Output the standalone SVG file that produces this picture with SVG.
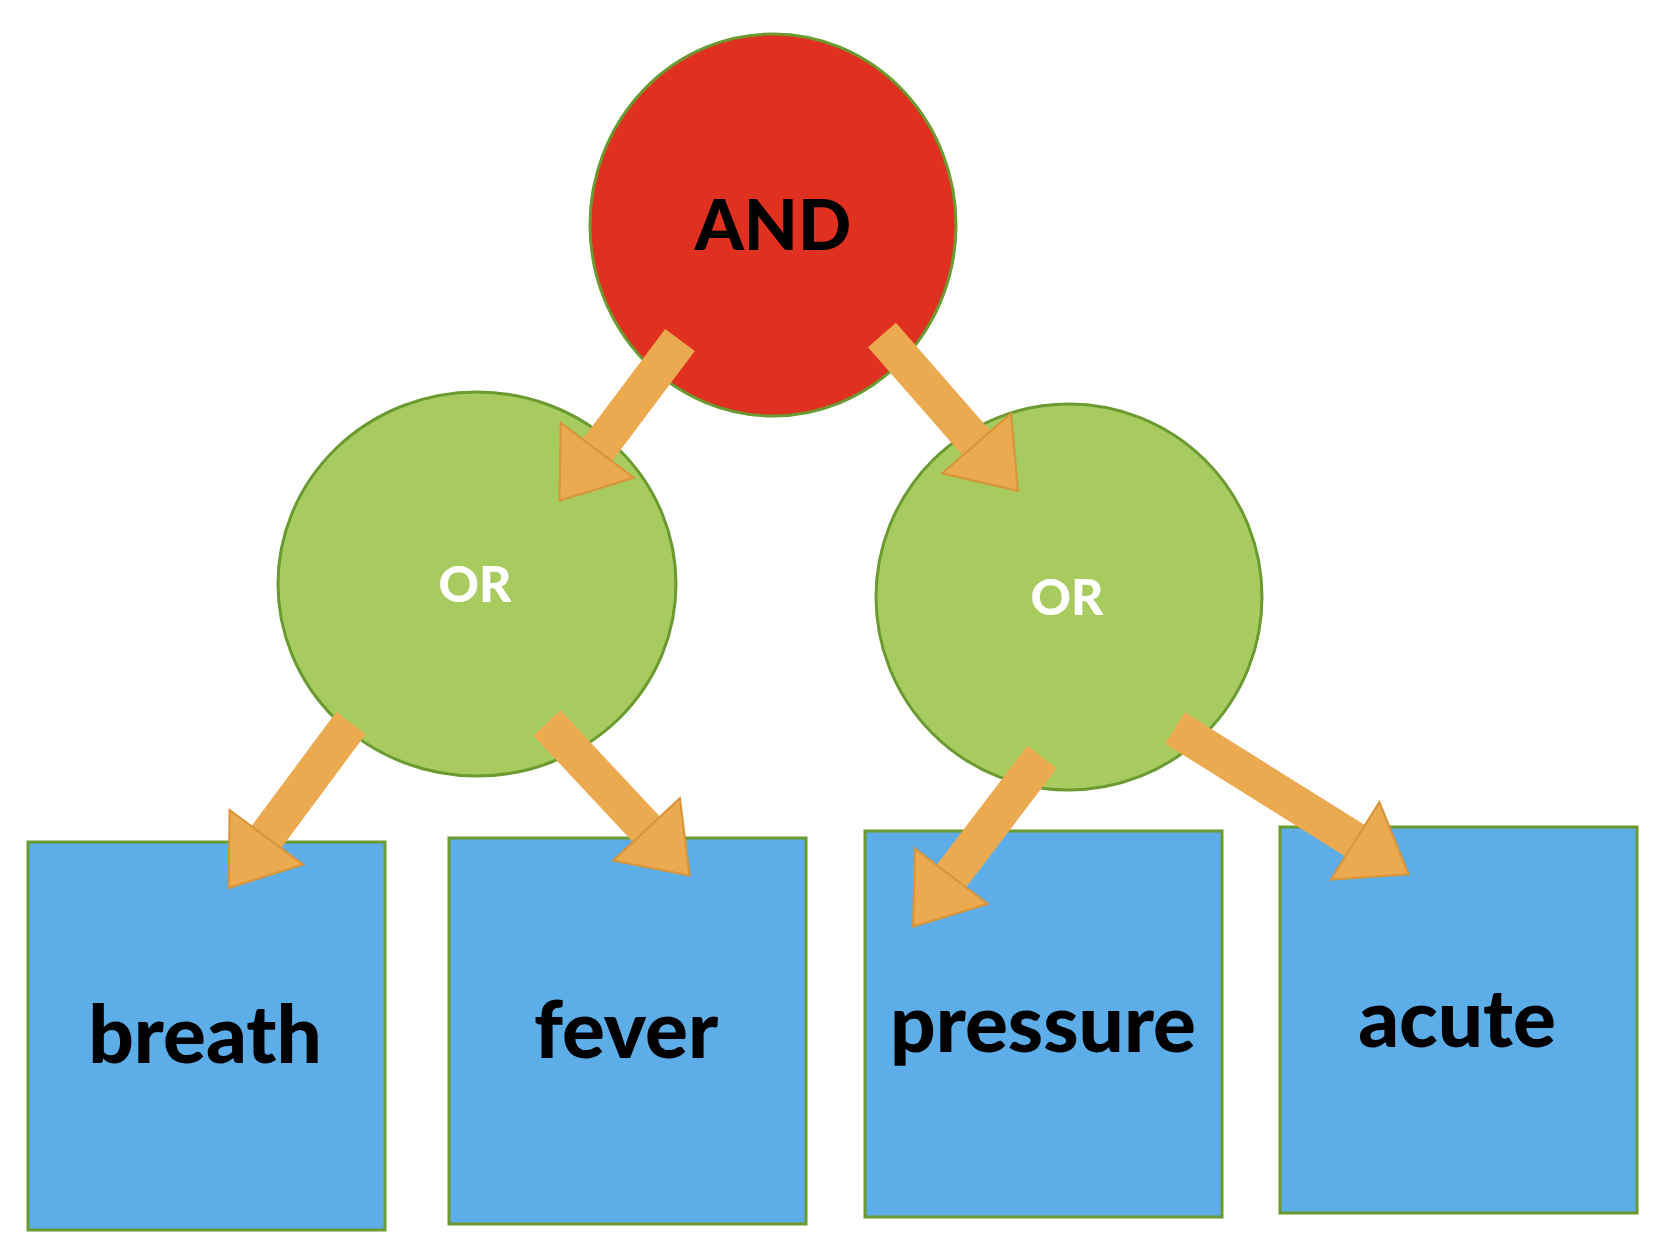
<svg xmlns="http://www.w3.org/2000/svg" width="1659" height="1251" viewBox="0 0 1659 1251">
<style>
.and{fill:#E03020;stroke:#6A9A30;stroke-width:3}
.or{fill:#A8CB60;stroke:#6A9A30;stroke-width:3}
.box{fill:#5DADE8;stroke:#6A9A30;stroke-width:3}
.t{font-family:Lato,"Open Sans",sans-serif;font-weight:900;text-anchor:middle}
.c{stroke:#EBAA50;stroke-width:37;fill:none}
</style>
<defs>
<marker id="ah" markerUnits="userSpaceOnUse" markerWidth="70" markerHeight="100" viewBox="-2 -46 64 92" refX="2" refY="0" orient="auto">
<path d="M0,-42 L58,0 L0,42 Z" fill="#EBAA50" stroke="#D8963A" stroke-width="2"/>
</marker>
</defs>
<g id="and"><ellipse class="and" cx="773" cy="225" rx="183" ry="191"/><text class="t" x="773" y="250" font-size="70" fill="#000">AND</text></g>
<g id="or1"><ellipse class="or" cx="477" cy="584" rx="199" ry="192"/><text class="t" x="475" y="602" font-size="50" fill="#fff">OR</text></g>
<g id="or2"><ellipse class="or" cx="1069" cy="597" rx="193" ry="193"/><text class="t" x="1067" y="615" font-size="50" fill="#fff">OR</text></g>
<g id="breath"><rect class="box" x="28" y="842" width="357" height="388"/><text class="t" x="205" y="1063" font-size="80">breath</text></g>
<g id="fever"><rect class="box" x="449" y="838" width="357" height="386"/><text class="t" x="626" y="1058" font-size="80">fever</text></g>
<g id="pressure"><rect class="box" x="865" y="831" width="357" height="386"/><text class="t" x="1043" y="1052" font-size="80">pressure</text></g>
<g id="acute"><rect class="box" x="1280" y="827" width="357" height="386"/><text class="t" x="1457" y="1047" font-size="80">acute</text></g>
<g id="connectors" marker-end="url(#ah)">
<line class="c" x1="680" y1="340" x2="596" y2="452" marker-end="url(#ah)"/>
<line class="c" x1="882" y1="335" x2="978" y2="445" marker-end="url(#ah)"/>
<line class="c" x1="351" y1="723" x2="265" y2="839" marker-end="url(#ah)"/>
<line class="c" x1="547" y1="723" x2="648" y2="831" marker-end="url(#ah)"/>
<line class="c" x1="1042" y1="757" x2="950" y2="878" marker-end="url(#ah)"/>
<line class="c" x1="1175" y1="728" x2="1357" y2="842" marker-end="url(#ah)"/>
</g>
</svg>
